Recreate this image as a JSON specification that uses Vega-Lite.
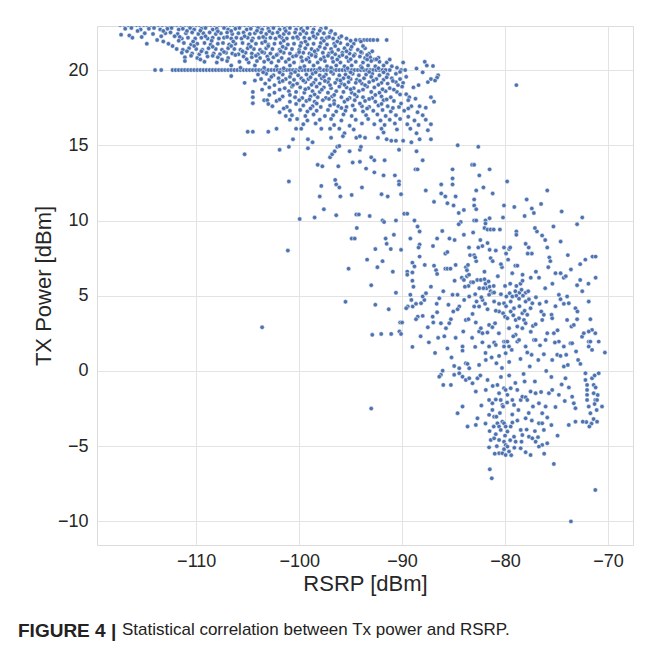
{
  "$schema": "https://vega.github.io/schema/vega-lite/v6.json",
  "width": 536,
  "height": 519,
  "autosize": {"type": "none"},
  "padding": {"left": 97, "top": 26, "right": 22, "bottom": 113},
  "background": "white",
  "title": {
    "text": "FIGURE 4 |",
    "subtitle": "\u200b\u00a0\u00a0\u00a0\u00a0\u00a0\u00a0\u00a0\u00a0\u00a0\u00a0\u00a0\u00a0\u00a0\u00a0\u00a0\u00a0\u00a0\u00a0\u00a0\u00a0\u00a0\u00a0Statistical correlation between Tx power and RSRP.",
    "orient": "bottom",
    "anchor": "start",
    "frame": "group",
    "dx": -79,
    "offset": 28,
    "font": "Liberation Sans",
    "fontSize": 19,
    "fontWeight": "bold",
    "color": "#222222",
    "subtitleFont": "Liberation Sans",
    "subtitleFontSize": 17,
    "subtitleFontWeight": "normal",
    "subtitleColor": "#222222",
    "subtitlePadding": -19
  },
  "config": {
    "view": {"stroke": "#dcdcdc", "strokeWidth": 1},
    "axis": {
      "grid": true,
      "gridColor": "#e3e3e3",
      "gridWidth": 1,
      "domain": false,
      "ticks": false,
      "labelFont": "Liberation Sans",
      "labelFontSize": 18,
      "labelColor": "#262626",
      "titleFont": "Liberation Sans",
      "titleFontSize": 22,
      "titleFontWeight": "normal",
      "titleColor": "#262626"
    }
  },
  "data": {"values": [
{"rsrp":-117.4,"tx":23},{"rsrp":-117.0,"tx":23},{"rsrp":-116.6,"tx":23},{"rsrp":-116.2,"tx":23},{"rsrp":-115.8,"tx":23},{"rsrp":-115.5,"tx":23},{"rsrp":-115.1,"tx":23},{"rsrp":-114.8,"tx":23},{"rsrp":-114.4,"tx":23},{"rsrp":-114.0,"tx":23},{"rsrp":-113.7,"tx":23},{"rsrp":-113.3,"tx":23},{"rsrp":-112.9,"tx":23},{"rsrp":-112.6,"tx":23},{"rsrp":-112.2,"tx":23},{"rsrp":-111.9,"tx":23},{"rsrp":-111.5,"tx":23},{"rsrp":-111.1,"tx":23},{"rsrp":-110.8,"tx":23},{"rsrp":-110.4,"tx":23},{"rsrp":-110.0,"tx":23},{"rsrp":-109.7,"tx":23},{"rsrp":-109.3,"tx":23},{"rsrp":-108.9,"tx":23},{"rsrp":-108.6,"tx":23},{"rsrp":-108.2,"tx":23},{"rsrp":-107.8,"tx":23},{"rsrp":-107.5,"tx":23},{"rsrp":-107.1,"tx":23},{"rsrp":-106.7,"tx":23},{"rsrp":-106.4,"tx":23},{"rsrp":-106.0,"tx":23},{"rsrp":-105.6,"tx":23},{"rsrp":-105.3,"tx":23},{"rsrp":-104.9,"tx":23},{"rsrp":-104.5,"tx":23},{"rsrp":-104.2,"tx":23},{"rsrp":-103.8,"tx":23},{"rsrp":-103.4,"tx":23},{"rsrp":-103.1,"tx":23},{"rsrp":-102.7,"tx":23},{"rsrp":-102.3,"tx":23},{"rsrp":-102.0,"tx":23},{"rsrp":-101.6,"tx":23},{"rsrp":-101.2,"tx":23},{"rsrp":-100.8,"tx":23},{"rsrp":-100.5,"tx":23},{"rsrp":-100.1,"tx":23},{"rsrp":-99.7,"tx":23},{"rsrp":-99.3,"tx":23},{"rsrp":-98.9,"tx":23},{"rsrp":-98.5,"tx":23},
{"rsrp":-116.9,"tx":22.75},{"rsrp":-116.3,"tx":22.8},{"rsrp":-115.4,"tx":22.7},{"rsrp":-114.6,"tx":22.75},{"rsrp":-114.1,"tx":22.8},{"rsrp":-113.5,"tx":22.7},{"rsrp":-112.8,"tx":22.75},{"rsrp":-112.4,"tx":22.8},{"rsrp":-111.7,"tx":22.7},{"rsrp":-111.3,"tx":22.75},{"rsrp":-110.6,"tx":22.8},{"rsrp":-110.2,"tx":22.7},{"rsrp":-109.5,"tx":22.75},{"rsrp":-109.1,"tx":22.8},{"rsrp":-108.4,"tx":22.7},{"rsrp":-108.0,"tx":22.75},{"rsrp":-107.3,"tx":22.8},{"rsrp":-106.9,"tx":22.7},{"rsrp":-106.2,"tx":22.75},{"rsrp":-105.8,"tx":22.8},{"rsrp":-105.1,"tx":22.7},{"rsrp":-104.7,"tx":22.75},{"rsrp":-104.0,"tx":22.8},{"rsrp":-103.6,"tx":22.7},{"rsrp":-103.0,"tx":22.75},{"rsrp":-102.5,"tx":22.8},{"rsrp":-101.9,"tx":22.7},{"rsrp":-101.4,"tx":22.75},{"rsrp":-100.9,"tx":22.8},{"rsrp":-100.3,"tx":22.7},{"rsrp":-99.8,"tx":22.75},{"rsrp":-99.2,"tx":22.8},{"rsrp":-98.6,"tx":22.7},{"rsrp":-97.9,"tx":22.75},{"rsrp":-97.4,"tx":22.8},
{"rsrp":-117.3,"tx":22.35},{"rsrp":-116.5,"tx":22.3},{"rsrp":-116.2,"tx":22.15},{"rsrp":-115.0,"tx":22.45},{"rsrp":-114.2,"tx":22.4},{"rsrp":-113.0,"tx":22.45},{"rsrp":-112.5,"tx":22.5},{"rsrp":-111.8,"tx":22.4},{"rsrp":-111.0,"tx":22.45},{"rsrp":-110.4,"tx":22.5},{"rsrp":-109.8,"tx":22.4},{"rsrp":-109.3,"tx":22.45},{"rsrp":-108.7,"tx":22.5},{"rsrp":-108.1,"tx":22.4},{"rsrp":-107.6,"tx":22.45},{"rsrp":-107.0,"tx":22.5},{"rsrp":-106.5,"tx":22.4},{"rsrp":-105.9,"tx":22.45},{"rsrp":-105.4,"tx":22.5},{"rsrp":-104.8,"tx":22.4},{"rsrp":-104.3,"tx":22.45},{"rsrp":-103.7,"tx":22.5},{"rsrp":-103.2,"tx":22.4},{"rsrp":-102.6,"tx":22.45},{"rsrp":-102.1,"tx":22.5},{"rsrp":-101.5,"tx":22.4},{"rsrp":-101.0,"tx":22.45},{"rsrp":-100.4,"tx":22.5},{"rsrp":-99.9,"tx":22.4},{"rsrp":-99.3,"tx":22.45},{"rsrp":-98.7,"tx":22.5},{"rsrp":-98.2,"tx":22.4},{"rsrp":-97.6,"tx":22.45},{"rsrp":-97.0,"tx":22.5},{"rsrp":-96.5,"tx":22.4},
{"rsrp":-113.8,"tx":22.0},{"rsrp":-112.1,"tx":22.25},{"rsrp":-111.4,"tx":22.1},{"rsrp":-110.8,"tx":22.15},{"rsrp":-110.1,"tx":22.1},{"rsrp":-109.5,"tx":22.15},{"rsrp":-108.9,"tx":22.1},{"rsrp":-108.4,"tx":22.15},{"rsrp":-107.8,"tx":22.1},{"rsrp":-107.3,"tx":22.15},{"rsrp":-106.6,"tx":22.1},{"rsrp":-106.1,"tx":22.15},{"rsrp":-105.6,"tx":22.1},{"rsrp":-105.0,"tx":22.15},{"rsrp":-104.5,"tx":22.1},{"rsrp":-103.9,"tx":22.15},{"rsrp":-103.3,"tx":22.1},{"rsrp":-102.8,"tx":22.15},{"rsrp":-102.3,"tx":22.1},{"rsrp":-101.7,"tx":22.15},{"rsrp":-101.2,"tx":22.1},{"rsrp":-100.6,"tx":22.15},{"rsrp":-100.1,"tx":22.1},{"rsrp":-99.5,"tx":22.15},{"rsrp":-99.0,"tx":22.1},{"rsrp":-98.4,"tx":22.15},{"rsrp":-97.8,"tx":22.1},{"rsrp":-97.3,"tx":22.15},{"rsrp":-96.7,"tx":22.1},{"rsrp":-96.1,"tx":22.15},{"rsrp":-95.4,"tx":22.1},
{"rsrp":-94.5,"tx":22.0},{"rsrp":-94.1,"tx":22.0},{"rsrp":-93.7,"tx":22.0},{"rsrp":-93.4,"tx":22.0},{"rsrp":-93.1,"tx":22.0},{"rsrp":-92.8,"tx":22.0},{"rsrp":-92.4,"tx":22.0},{"rsrp":-91.5,"tx":22.0},
{"rsrp":-114.8,"tx":21.75},{"rsrp":-112.7,"tx":21.75},{"rsrp":-111.2,"tx":21.8},{"rsrp":-110.5,"tx":21.7},{"rsrp":-109.9,"tx":21.75},{"rsrp":-109.2,"tx":21.8},{"rsrp":-108.6,"tx":21.7},{"rsrp":-107.9,"tx":21.75},{"rsrp":-107.4,"tx":21.8},{"rsrp":-106.8,"tx":21.7},{"rsrp":-106.2,"tx":21.75},{"rsrp":-105.5,"tx":21.8},{"rsrp":-104.9,"tx":21.7},{"rsrp":-104.2,"tx":21.75},{"rsrp":-103.6,"tx":21.8},{"rsrp":-103.0,"tx":21.7},{"rsrp":-102.4,"tx":21.75},{"rsrp":-101.8,"tx":21.8},{"rsrp":-101.1,"tx":21.7},{"rsrp":-100.5,"tx":21.75},{"rsrp":-99.8,"tx":21.8},{"rsrp":-99.2,"tx":21.7},{"rsrp":-98.6,"tx":21.75},{"rsrp":-97.9,"tx":21.8},{"rsrp":-97.3,"tx":21.7},{"rsrp":-96.6,"tx":21.75},{"rsrp":-96.0,"tx":21.8},{"rsrp":-95.3,"tx":21.7},{"rsrp":-94.7,"tx":21.75},
{"rsrp":-111.9,"tx":21.4},{"rsrp":-111.3,"tx":21.35},{"rsrp":-110.7,"tx":21.45},{"rsrp":-110.0,"tx":21.4},{"rsrp":-109.4,"tx":21.35},{"rsrp":-108.8,"tx":21.45},{"rsrp":-108.1,"tx":21.4},{"rsrp":-107.5,"tx":21.35},{"rsrp":-106.9,"tx":21.45},{"rsrp":-106.3,"tx":21.4},{"rsrp":-105.7,"tx":21.35},{"rsrp":-105.0,"tx":21.45},{"rsrp":-104.4,"tx":21.4},{"rsrp":-103.8,"tx":21.35},{"rsrp":-103.2,"tx":21.45},{"rsrp":-102.6,"tx":21.4},{"rsrp":-101.9,"tx":21.35},{"rsrp":-101.3,"tx":21.45},{"rsrp":-100.7,"tx":21.4},{"rsrp":-100.0,"tx":21.35},{"rsrp":-99.4,"tx":21.45},{"rsrp":-98.8,"tx":21.4},{"rsrp":-98.2,"tx":21.35},{"rsrp":-97.5,"tx":21.45},{"rsrp":-96.9,"tx":21.4},{"rsrp":-96.2,"tx":21.35},{"rsrp":-95.6,"tx":21.45},{"rsrp":-95.0,"tx":21.4},{"rsrp":-94.3,"tx":21.35},{"rsrp":-93.6,"tx":21.45},
{"rsrp":-111.4,"tx":21.15},{"rsrp":-110.4,"tx":21.1},{"rsrp":-109.7,"tx":21.05},{"rsrp":-109.0,"tx":21.15},{"rsrp":-108.3,"tx":21.1},{"rsrp":-107.7,"tx":21.05},{"rsrp":-107.1,"tx":21.15},{"rsrp":-106.5,"tx":21.1},{"rsrp":-105.9,"tx":21.05},{"rsrp":-105.2,"tx":21.15},{"rsrp":-104.6,"tx":21.1},{"rsrp":-104.0,"tx":21.05},{"rsrp":-103.4,"tx":21.15},{"rsrp":-102.8,"tx":21.1},{"rsrp":-102.1,"tx":21.05},{"rsrp":-101.5,"tx":21.15},{"rsrp":-100.9,"tx":21.1},{"rsrp":-100.2,"tx":21.05},{"rsrp":-99.6,"tx":21.15},{"rsrp":-99.0,"tx":21.1},{"rsrp":-98.4,"tx":21.05},{"rsrp":-97.7,"tx":21.15},{"rsrp":-97.1,"tx":21.1},{"rsrp":-96.5,"tx":21.05},{"rsrp":-95.8,"tx":21.15},{"rsrp":-95.1,"tx":21.1},{"rsrp":-94.6,"tx":21.05},{"rsrp":-93.9,"tx":21.15},{"rsrp":-93.2,"tx":21.1},
{"rsrp":-111.1,"tx":20.85},{"rsrp":-109.9,"tx":20.8},{"rsrp":-108.9,"tx":20.9},{"rsrp":-107.9,"tx":20.85},{"rsrp":-106.9,"tx":20.8},{"rsrp":-105.4,"tx":20.9},{"rsrp":-104.6,"tx":20.85},{"rsrp":-103.8,"tx":20.8},{"rsrp":-103.1,"tx":20.9},{"rsrp":-102.5,"tx":20.85},{"rsrp":-101.7,"tx":20.8},{"rsrp":-100.6,"tx":20.9},{"rsrp":-99.8,"tx":20.85},{"rsrp":-99.1,"tx":20.8},{"rsrp":-98.4,"tx":20.9},{"rsrp":-97.6,"tx":20.85},{"rsrp":-96.8,"tx":20.8},{"rsrp":-96.1,"tx":20.9},{"rsrp":-95.4,"tx":20.85},{"rsrp":-94.1,"tx":20.9},{"rsrp":-93.6,"tx":20.8},{"rsrp":-93.1,"tx":20.85},{"rsrp":-92.7,"tx":20.7},{"rsrp":-92.3,"tx":20.82},
{"rsrp":-111.1,"tx":20.6},{"rsrp":-109.2,"tx":20.55},{"rsrp":-108.0,"tx":20.5},{"rsrp":-107.0,"tx":20.6},{"rsrp":-105.8,"tx":20.55},{"rsrp":-104.9,"tx":20.5},{"rsrp":-104.1,"tx":20.6},{"rsrp":-103.4,"tx":20.55},{"rsrp":-102.7,"tx":20.5},{"rsrp":-102.0,"tx":20.6},{"rsrp":-101.3,"tx":20.55},{"rsrp":-100.5,"tx":20.5},{"rsrp":-99.7,"tx":20.6},{"rsrp":-99.0,"tx":20.55},{"rsrp":-98.2,"tx":20.5},{"rsrp":-97.5,"tx":20.6},{"rsrp":-96.7,"tx":20.55},{"rsrp":-96.0,"tx":20.5},{"rsrp":-95.2,"tx":20.6},{"rsrp":-94.5,"tx":20.55},{"rsrp":-93.8,"tx":20.5},{"rsrp":-93.0,"tx":20.6},{"rsrp":-92.2,"tx":20.55},{"rsrp":-91.5,"tx":20.5},{"rsrp":-89.9,"tx":20.5},{"rsrp":-87.8,"tx":20.55},
{"rsrp":-106.6,"tx":20.3},{"rsrp":-104.3,"tx":20.3},{"rsrp":-102.2,"tx":20.25},{"rsrp":-100.9,"tx":20.3},{"rsrp":-99.5,"tx":20.25},{"rsrp":-98.6,"tx":20.3},{"rsrp":-97.3,"tx":20.25},{"rsrp":-96.4,"tx":20.3},{"rsrp":-95.6,"tx":20.25},{"rsrp":-94.9,"tx":20.3},{"rsrp":-94.0,"tx":20.25},{"rsrp":-93.3,"tx":20.3},{"rsrp":-92.6,"tx":20.25},{"rsrp":-91.8,"tx":20.3},{"rsrp":-91.0,"tx":20.25},{"rsrp":-87.6,"tx":20.3},{"rsrp":-87.0,"tx":20.27},
{"rsrp":-114.0,"tx":20},{"rsrp":-113.4,"tx":20},{"rsrp":-112.3,"tx":20},{"rsrp":-112.0,"tx":20},{"rsrp":-111.7,"tx":20},{"rsrp":-111.4,"tx":20},{"rsrp":-111.1,"tx":20},{"rsrp":-110.8,"tx":20},{"rsrp":-110.5,"tx":20},{"rsrp":-110.2,"tx":20},{"rsrp":-109.9,"tx":20},{"rsrp":-109.6,"tx":20},{"rsrp":-109.3,"tx":20},{"rsrp":-109.0,"tx":20},{"rsrp":-108.7,"tx":20},{"rsrp":-108.4,"tx":20},{"rsrp":-108.1,"tx":20},{"rsrp":-107.8,"tx":20},{"rsrp":-107.5,"tx":20},{"rsrp":-107.2,"tx":20},{"rsrp":-106.9,"tx":20},{"rsrp":-106.6,"tx":20},{"rsrp":-106.3,"tx":20},{"rsrp":-106.0,"tx":20},{"rsrp":-105.7,"tx":20},{"rsrp":-105.4,"tx":20},{"rsrp":-105.1,"tx":20},{"rsrp":-104.8,"tx":20},{"rsrp":-104.5,"tx":20},{"rsrp":-104.2,"tx":20},{"rsrp":-103.9,"tx":20},{"rsrp":-103.6,"tx":20},{"rsrp":-103.3,"tx":20},{"rsrp":-103.0,"tx":20},{"rsrp":-102.7,"tx":20},{"rsrp":-102.4,"tx":20},{"rsrp":-102.1,"tx":20},{"rsrp":-101.8,"tx":20},{"rsrp":-101.5,"tx":20},{"rsrp":-101.2,"tx":20},{"rsrp":-100.9,"tx":20},{"rsrp":-100.6,"tx":20},{"rsrp":-100.3,"tx":20},{"rsrp":-100.0,"tx":20},{"rsrp":-99.7,"tx":20},{"rsrp":-99.4,"tx":20},{"rsrp":-99.1,"tx":20},{"rsrp":-98.8,"tx":20},{"rsrp":-98.5,"tx":20},{"rsrp":-98.2,"tx":20},{"rsrp":-97.9,"tx":20},{"rsrp":-97.6,"tx":20},{"rsrp":-97.3,"tx":20},{"rsrp":-97.0,"tx":20},{"rsrp":-96.7,"tx":20},{"rsrp":-96.4,"tx":20},{"rsrp":-96.1,"tx":20},{"rsrp":-95.8,"tx":20},{"rsrp":-95.5,"tx":20},{"rsrp":-95.2,"tx":20},{"rsrp":-94.9,"tx":20},{"rsrp":-94.6,"tx":20},{"rsrp":-94.3,"tx":20},{"rsrp":-94.0,"tx":20},{"rsrp":-93.7,"tx":20},{"rsrp":-93.4,"tx":20},{"rsrp":-93.1,"tx":20},{"rsrp":-92.8,"tx":20},{"rsrp":-92.5,"tx":20},{"rsrp":-92.2,"tx":20},{"rsrp":-91.9,"tx":20},{"rsrp":-91.6,"tx":20},{"rsrp":-91.2,"tx":20},{"rsrp":-90.1,"tx":20},{"rsrp":-89.7,"tx":20},
{"rsrp":-106.6,"tx":19.6},{"rsrp":-104.0,"tx":19.7},{"rsrp":-103.2,"tx":19.75},{"rsrp":-102.5,"tx":19.65},{"rsrp":-101.6,"tx":19.7},{"rsrp":-100.8,"tx":19.75},{"rsrp":-100.1,"tx":19.65},{"rsrp":-99.3,"tx":19.7},{"rsrp":-98.7,"tx":19.75},{"rsrp":-98.0,"tx":19.65},{"rsrp":-97.4,"tx":19.7},{"rsrp":-96.7,"tx":19.75},{"rsrp":-96.1,"tx":19.65},{"rsrp":-95.5,"tx":19.7},{"rsrp":-94.8,"tx":19.75},{"rsrp":-94.2,"tx":19.65},{"rsrp":-93.5,"tx":19.7},{"rsrp":-92.9,"tx":19.75},{"rsrp":-92.2,"tx":19.65},{"rsrp":-91.4,"tx":19.7},{"rsrp":-90.6,"tx":19.75},{"rsrp":-86.5,"tx":19.65},
{"rsrp":-103.7,"tx":19.4},{"rsrp":-102.9,"tx":19.35},{"rsrp":-102.0,"tx":19.45},{"rsrp":-101.3,"tx":19.4},{"rsrp":-100.5,"tx":19.35},{"rsrp":-99.8,"tx":19.45},{"rsrp":-99.1,"tx":19.4},{"rsrp":-98.4,"tx":19.35},{"rsrp":-97.8,"tx":19.45},{"rsrp":-97.1,"tx":19.4},{"rsrp":-96.3,"tx":19.35},{"rsrp":-95.7,"tx":19.45},{"rsrp":-95.0,"tx":19.4},{"rsrp":-94.4,"tx":19.35},{"rsrp":-93.7,"tx":19.45},{"rsrp":-92.5,"tx":19.4},{"rsrp":-91.8,"tx":19.35},{"rsrp":-91.0,"tx":19.45},{"rsrp":-90.2,"tx":19.4},{"rsrp":-87.2,"tx":19.4},{"rsrp":-86.6,"tx":19.5},
{"rsrp":-105.3,"tx":19.15},{"rsrp":-103.3,"tx":19.1},{"rsrp":-101.9,"tx":19.2},{"rsrp":-100.9,"tx":19.15},{"rsrp":-100.2,"tx":19.1},{"rsrp":-99.4,"tx":19.2},{"rsrp":-98.6,"tx":19.15},{"rsrp":-98.0,"tx":19.1},{"rsrp":-97.2,"tx":19.2},{"rsrp":-96.5,"tx":19.15},{"rsrp":-95.9,"tx":19.1},{"rsrp":-95.2,"tx":19.2},{"rsrp":-94.5,"tx":19.15},{"rsrp":-93.9,"tx":19.1},{"rsrp":-93.2,"tx":19.2},{"rsrp":-92.0,"tx":19.15},{"rsrp":-91.4,"tx":19.1},{"rsrp":-90.6,"tx":19.2},{"rsrp":-89.9,"tx":19.15},{"rsrp":-87.5,"tx":19.2},{"rsrp":-86.8,"tx":19.3},
{"rsrp":-102.9,"tx":18.85},{"rsrp":-101.4,"tx":18.8},{"rsrp":-100.7,"tx":18.9},{"rsrp":-99.9,"tx":18.85},{"rsrp":-99.1,"tx":18.8},{"rsrp":-98.3,"tx":18.9},{"rsrp":-97.6,"tx":18.85},{"rsrp":-96.9,"tx":18.8},{"rsrp":-96.1,"tx":18.9},{"rsrp":-95.4,"tx":18.85},{"rsrp":-94.7,"tx":18.8},{"rsrp":-93.4,"tx":18.9},{"rsrp":-92.7,"tx":18.85},{"rsrp":-91.2,"tx":18.8},{"rsrp":-90.0,"tx":18.9},{"rsrp":-88.9,"tx":18.85},
{"rsrp":-104.5,"tx":18.55},{"rsrp":-102.4,"tx":18.5},{"rsrp":-101.0,"tx":18.6},{"rsrp":-100.3,"tx":18.55},{"rsrp":-99.5,"tx":18.5},{"rsrp":-98.7,"tx":18.6},{"rsrp":-98.0,"tx":18.55},{"rsrp":-97.2,"tx":18.5},{"rsrp":-96.4,"tx":18.6},{"rsrp":-95.7,"tx":18.55},{"rsrp":-94.9,"tx":18.5},{"rsrp":-94.2,"tx":18.6},{"rsrp":-93.0,"tx":18.55},{"rsrp":-92.2,"tx":18.5},{"rsrp":-91.6,"tx":18.6},{"rsrp":-90.5,"tx":18.55},{"rsrp":-89.6,"tx":18.4},{"rsrp":-89.3,"tx":18.2},
{"rsrp":-104.5,"tx":18.2},{"rsrp":-103.4,"tx":18.0},{"rsrp":-101.6,"tx":18.25},{"rsrp":-100.4,"tx":18.2},{"rsrp":-99.7,"tx":18.15},{"rsrp":-98.9,"tx":18.25},{"rsrp":-98.2,"tx":18.2},{"rsrp":-97.4,"tx":18.15},{"rsrp":-96.8,"tx":18.25},{"rsrp":-95.9,"tx":18.2},{"rsrp":-95.1,"tx":18.15},{"rsrp":-94.4,"tx":18.25},{"rsrp":-93.8,"tx":18.2},{"rsrp":-92.9,"tx":18.15},{"rsrp":-92.0,"tx":18.25},{"rsrp":-91.1,"tx":18.2},{"rsrp":-89.4,"tx":18.0},{"rsrp":-88.7,"tx":18.1},{"rsrp":-87.2,"tx":18.2},
{"rsrp":-104.5,"tx":17.8},{"rsrp":-103.1,"tx":18.0},{"rsrp":-102.2,"tx":17.95},{"rsrp":-100.9,"tx":17.9},{"rsrp":-100.0,"tx":18.0},{"rsrp":-99.3,"tx":17.95},{"rsrp":-98.5,"tx":17.9},{"rsrp":-97.7,"tx":18.0},{"rsrp":-96.6,"tx":17.95},{"rsrp":-95.6,"tx":17.9},{"rsrp":-94.6,"tx":18.0},{"rsrp":-93.6,"tx":17.95},{"rsrp":-92.6,"tx":17.9},{"rsrp":-91.8,"tx":18.0},{"rsrp":-90.8,"tx":17.95},{"rsrp":-89.1,"tx":17.6},{"rsrp":-86.9,"tx":17.9},
{"rsrp":-102.6,"tx":17.6},{"rsrp":-101.2,"tx":17.55},{"rsrp":-99.6,"tx":17.65},{"rsrp":-98.7,"tx":17.6},{"rsrp":-97.9,"tx":17.55},{"rsrp":-97.0,"tx":17.65},{"rsrp":-96.2,"tx":17.6},{"rsrp":-95.4,"tx":17.55},{"rsrp":-94.8,"tx":17.65},{"rsrp":-93.9,"tx":17.6},{"rsrp":-93.2,"tx":17.55},{"rsrp":-92.3,"tx":17.65},{"rsrp":-91.4,"tx":17.6},{"rsrp":-90.3,"tx":17.55},{"rsrp":-88.3,"tx":17.6},{"rsrp":-87.7,"tx":17.5},
{"rsrp":-101.9,"tx":17.2},{"rsrp":-100.9,"tx":17.3},{"rsrp":-99.9,"tx":17.35},{"rsrp":-99.2,"tx":17.25},{"rsrp":-98.3,"tx":17.3},{"rsrp":-97.2,"tx":17.35},{"rsrp":-96.4,"tx":17.25},{"rsrp":-95.5,"tx":17.3},{"rsrp":-94.6,"tx":17.35},{"rsrp":-93.8,"tx":17.25},{"rsrp":-92.8,"tx":17.3},{"rsrp":-91.9,"tx":17.35},{"rsrp":-91.1,"tx":17.25},{"rsrp":-89.8,"tx":17.3},{"rsrp":-88.5,"tx":17.2},
{"rsrp":-101.3,"tx":16.95},{"rsrp":-100.7,"tx":17.0},{"rsrp":-99.4,"tx":16.95},{"rsrp":-98.6,"tx":17.05},{"rsrp":-97.5,"tx":16.95},{"rsrp":-96.7,"tx":17.0},{"rsrp":-95.7,"tx":17.05},{"rsrp":-94.9,"tx":16.95},{"rsrp":-93.5,"tx":17.0},{"rsrp":-92.4,"tx":17.05},{"rsrp":-91.6,"tx":16.95},{"rsrp":-90.6,"tx":17.0},{"rsrp":-89.4,"tx":16.9},{"rsrp":-88.0,"tx":17.0},
{"rsrp":-100.9,"tx":16.7},{"rsrp":-100.2,"tx":16.75},{"rsrp":-99.2,"tx":16.65},{"rsrp":-98.0,"tx":16.7},{"rsrp":-96.9,"tx":16.75},{"rsrp":-95.9,"tx":16.65},{"rsrp":-94.5,"tx":16.7},{"rsrp":-93.3,"tx":16.75},{"rsrp":-92.1,"tx":16.65},{"rsrp":-91.2,"tx":16.7},{"rsrp":-90.2,"tx":16.75},{"rsrp":-88.8,"tx":16.65},{"rsrp":-87.7,"tx":16.7},
{"rsrp":-99.6,"tx":16.4},{"rsrp":-98.4,"tx":16.45},{"rsrp":-96.6,"tx":16.35},{"rsrp":-95.1,"tx":16.3},{"rsrp":-93.9,"tx":16.45},{"rsrp":-92.7,"tx":16.4},{"rsrp":-91.7,"tx":16.35},{"rsrp":-90.7,"tx":16.45},{"rsrp":-89.5,"tx":16.4},{"rsrp":-88.4,"tx":16.35},{"rsrp":-87.2,"tx":16.4},
{"rsrp":-102.2,"tx":16.1},{"rsrp":-100.3,"tx":16.1},{"rsrp":-99.8,"tx":16.1},{"rsrp":-97.85,"tx":16.1},{"rsrp":-97.0,"tx":16.1},{"rsrp":-96.1,"tx":16.1},{"rsrp":-94.7,"tx":16.05},{"rsrp":-92.0,"tx":16.1},{"rsrp":-90.5,"tx":16.05},{"rsrp":-89.2,"tx":16.1},{"rsrp":-87.5,"tx":16.0},
{"rsrp":-105.0,"tx":15.9},{"rsrp":-104.5,"tx":15.9},{"rsrp":-103.0,"tx":15.9},{"rsrp":-95.6,"tx":15.8},{"rsrp":-91.8,"tx":15.85},{"rsrp":-88.6,"tx":15.8},
{"rsrp":-100.6,"tx":15.4},{"rsrp":-99.15,"tx":15.4},{"rsrp":-96.9,"tx":15.5},{"rsrp":-94.45,"tx":15.5},{"rsrp":-94.1,"tx":15.6},{"rsrp":-93.6,"tx":15.5},{"rsrp":-92.35,"tx":15.5},{"rsrp":-91.5,"tx":15.4},{"rsrp":-89.1,"tx":15.2},{"rsrp":-88.3,"tx":15.4},{"rsrp":-87.2,"tx":15.4},
{"rsrp":-98.7,"tx":15.2},{"rsrp":-95.75,"tx":15.6},{"rsrp":-91.05,"tx":15.3},{"rsrp":-90.6,"tx":15.3},{"rsrp":-89.9,"tx":15.3},
{"rsrp":-115.7,"tx":22.6},{"rsrp":-113.2,"tx":22.6},{"rsrp":-110.9,"tx":22.6},{"rsrp":-109.6,"tx":22.62},{"rsrp":-107.9,"tx":22.58},{"rsrp":-106.6,"tx":22.6},{"rsrp":-104.1,"tx":22.62},{"rsrp":-102.9,"tx":22.58},{"rsrp":-101.3,"tx":22.6},{"rsrp":-99.6,"tx":22.6},{"rsrp":-98.0,"tx":22.62},{"rsrp":-96.9,"tx":22.6},
{"rsrp":-115.3,"tx":22.2},{"rsrp":-113.4,"tx":22.25},{"rsrp":-111.6,"tx":22.2},{"rsrp":-109.1,"tx":22.25},{"rsrp":-107.0,"tx":22.2},{"rsrp":-105.3,"tx":22.25},{"rsrp":-103.5,"tx":22.2},{"rsrp":-101.9,"tx":22.25},{"rsrp":-100.2,"tx":22.2},{"rsrp":-98.6,"tx":22.25},{"rsrp":-97.1,"tx":22.2},{"rsrp":-95.9,"tx":22.25},
{"rsrp":-113.2,"tx":21.9},{"rsrp":-111.7,"tx":21.95},{"rsrp":-110.3,"tx":21.9},{"rsrp":-108.5,"tx":21.95},{"rsrp":-106.4,"tx":21.9},{"rsrp":-104.6,"tx":21.95},{"rsrp":-103.3,"tx":21.9},{"rsrp":-101.5,"tx":21.95},{"rsrp":-99.4,"tx":21.9},{"rsrp":-97.6,"tx":21.95},{"rsrp":-96.3,"tx":21.9},{"rsrp":-95.0,"tx":21.95},{"rsrp":-94.0,"tx":21.9},
{"rsrp":-112.3,"tx":21.6},{"rsrp":-110.2,"tx":21.6},{"rsrp":-108.4,"tx":21.55},{"rsrp":-106.6,"tx":21.6},{"rsrp":-104.7,"tx":21.55},{"rsrp":-103.0,"tx":21.6},{"rsrp":-101.6,"tx":21.55},{"rsrp":-99.9,"tx":21.6},{"rsrp":-98.0,"tx":21.55},{"rsrp":-96.5,"tx":21.6},{"rsrp":-94.9,"tx":21.55},{"rsrp":-93.8,"tx":21.6},
{"rsrp":-110.9,"tx":21.25},{"rsrp":-109.5,"tx":21.25},{"rsrp":-107.3,"tx":21.2},{"rsrp":-105.5,"tx":21.25},{"rsrp":-103.6,"tx":21.2},{"rsrp":-101.8,"tx":21.25},{"rsrp":-100.0,"tx":21.2},{"rsrp":-98.5,"tx":21.25},{"rsrp":-96.8,"tx":21.2},{"rsrp":-95.4,"tx":21.25},{"rsrp":-94.0,"tx":21.2},{"rsrp":-92.9,"tx":21.25},
{"rsrp":-110.5,"tx":20.95},{"rsrp":-108.4,"tx":20.95},{"rsrp":-106.2,"tx":21.0},{"rsrp":-104.2,"tx":20.95},{"rsrp":-102.2,"tx":21.0},{"rsrp":-100.3,"tx":20.95},{"rsrp":-98.8,"tx":21.0},{"rsrp":-97.2,"tx":20.95},{"rsrp":-95.8,"tx":21.0},{"rsrp":-94.7,"tx":20.95},{"rsrp":-93.4,"tx":21.0},
{"rsrp":-109.6,"tx":20.7},{"rsrp":-107.5,"tx":20.7},{"rsrp":-105.1,"tx":20.72},{"rsrp":-103.0,"tx":20.7},{"rsrp":-101.0,"tx":20.72},{"rsrp":-99.3,"tx":20.7},{"rsrp":-97.9,"tx":20.72},{"rsrp":-96.3,"tx":20.7},{"rsrp":-95.0,"tx":20.72},{"rsrp":-93.4,"tx":20.7},{"rsrp":-92.5,"tx":20.72},{"rsrp":-91.2,"tx":20.7},
{"rsrp":-105.7,"tx":20.15},{"rsrp":-103.4,"tx":20.15},{"rsrp":-101.5,"tx":20.12},{"rsrp":-99.9,"tx":20.15},{"rsrp":-98.0,"tx":20.12},{"rsrp":-96.9,"tx":20.15},{"rsrp":-95.3,"tx":20.12},{"rsrp":-93.9,"tx":20.15},{"rsrp":-92.3,"tx":20.12},{"rsrp":-90.5,"tx":20.15},{"rsrp":-88.6,"tx":20.1},
{"rsrp":-103.5,"tx":19.85},{"rsrp":-101.9,"tx":19.85},{"rsrp":-100.4,"tx":19.88},{"rsrp":-98.4,"tx":19.85},{"rsrp":-96.9,"tx":19.88},{"rsrp":-95.0,"tx":19.85},{"rsrp":-93.2,"tx":19.88},{"rsrp":-91.8,"tx":19.85},{"rsrp":-90.2,"tx":19.88},{"rsrp":-88.0,"tx":19.85},
{"rsrp":-102.7,"tx":19.55},{"rsrp":-100.9,"tx":19.55},{"rsrp":-98.9,"tx":19.52},{"rsrp":-97.6,"tx":19.55},{"rsrp":-95.2,"tx":19.52},{"rsrp":-93.0,"tx":19.55},{"rsrp":-91.5,"tx":19.52},{"rsrp":-89.6,"tx":19.55},
{"rsrp":-104.3,"tx":19.3},{"rsrp":-101.6,"tx":19.28},{"rsrp":-99.6,"tx":19.3},{"rsrp":-97.5,"tx":19.28},{"rsrp":-96.0,"tx":19.3},{"rsrp":-94.1,"tx":19.28},{"rsrp":-92.8,"tx":19.3},{"rsrp":-90.9,"tx":19.28},
{"rsrp":-102.4,"tx":19.0},{"rsrp":-100.6,"tx":19.0},{"rsrp":-98.8,"tx":19.02},{"rsrp":-97.0,"tx":19.0},{"rsrp":-95.6,"tx":19.02},{"rsrp":-93.6,"tx":19.0},{"rsrp":-92.3,"tx":19.02},{"rsrp":-90.4,"tx":19.0},{"rsrp":-88.4,"tx":19.0},
{"rsrp":-103.6,"tx":18.7},{"rsrp":-101.9,"tx":18.7},{"rsrp":-99.4,"tx":18.72},{"rsrp":-97.8,"tx":18.7},{"rsrp":-95.0,"tx":18.72},{"rsrp":-93.8,"tx":18.7},{"rsrp":-91.9,"tx":18.72},{"rsrp":-90.8,"tx":18.7},
{"rsrp":-102.9,"tx":18.35},{"rsrp":-100.9,"tx":18.35},{"rsrp":-98.5,"tx":18.38},{"rsrp":-96.6,"tx":18.35},{"rsrp":-94.6,"tx":18.38},{"rsrp":-92.6,"tx":18.35},{"rsrp":-90.2,"tx":18.38},
{"rsrp":-101.9,"tx":18.05},{"rsrp":-99.0,"tx":18.05},{"rsrp":-97.1,"tx":18.08},{"rsrp":-95.3,"tx":18.05},{"rsrp":-93.2,"tx":18.08},{"rsrp":-91.5,"tx":18.05},
{"rsrp":-103.0,"tx":17.75},{"rsrp":-100.3,"tx":17.75},{"rsrp":-98.3,"tx":17.78},{"rsrp":-96.6,"tx":17.75},{"rsrp":-94.1,"tx":17.78},{"rsrp":-92.0,"tx":17.75},{"rsrp":-90.1,"tx":17.78},
{"rsrp":-101.5,"tx":17.45},{"rsrp":-98.9,"tx":17.45},{"rsrp":-95.9,"tx":17.48},{"rsrp":-93.4,"tx":17.45},{"rsrp":-90.9,"tx":17.48},{"rsrp":-89.4,"tx":17.45},
{"rsrp":-101.9,"tx":14.7},{"rsrp":-101.0,"tx":14.9},{"rsrp":-99.15,"tx":14.8},{"rsrp":-97.0,"tx":14.2},{"rsrp":-96.8,"tx":14.4},{"rsrp":-96.55,"tx":14.6},{"rsrp":-96.3,"tx":14.9},{"rsrp":-96.1,"tx":14.95},{"rsrp":-95.1,"tx":14.6},{"rsrp":-94.1,"tx":14.7},{"rsrp":-94.0,"tx":14.9},{"rsrp":-93.0,"tx":14.2},{"rsrp":-92.7,"tx":14.0},{"rsrp":-90.3,"tx":14.7},{"rsrp":-88.6,"tx":14.6},{"rsrp":-98.2,"tx":13.7},{"rsrp":-97.75,"tx":13.6},{"rsrp":-96.2,"tx":13.6},{"rsrp":-94.8,"tx":13.85},{"rsrp":-94.1,"tx":13.9},{"rsrp":-93.5,"tx":13.45},{"rsrp":-92.7,"tx":13.2},{"rsrp":-101.0,"tx":12.6},{"rsrp":-97.85,"tx":12.3},{"rsrp":-96.5,"tx":12.7},{"rsrp":-96.4,"tx":12.4},{"rsrp":-96.1,"tx":12.2},{"rsrp":-93.9,"tx":12.2},{"rsrp":-98.0,"tx":11.6},{"rsrp":-96.0,"tx":11.6},{"rsrp":-94.9,"tx":11.7},{"rsrp":-97.6,"tx":10.75},{"rsrp":-96.4,"tx":10.35},{"rsrp":-94.45,"tx":10.4},{"rsrp":-94.2,"tx":10.4},{"rsrp":-93.15,"tx":10.3},{"rsrp":-98.5,"tx":10.2},{"rsrp":-99.95,"tx":10.1},{"rsrp":-105.3,"tx":14.4},{"rsrp":-101.1,"tx":8.0},{"rsrp":-103.6,"tx":2.9},{"rsrp":-78.9,"tx":19.0},{"rsrp":-84.6,"tx":15.0},{"rsrp":-82.6,"tx":14.9},
{"rsrp":-94.9,"tx":8.8},{"rsrp":-94.6,"tx":8.8},{"rsrp":-94.4,"tx":9.5},{"rsrp":-95.2,"tx":6.8},{"rsrp":-95.5,"tx":4.6},{"rsrp":-93.4,"tx":7.4},{"rsrp":-92.6,"tx":8.1},{"rsrp":-92.4,"tx":6.9},{"rsrp":-93.0,"tx":5.7},{"rsrp":-92.6,"tx":4.4},{"rsrp":-92.9,"tx":2.4},{"rsrp":-93.0,"tx":-2.5},
{"rsrp":-91.7,"tx":14.0},{"rsrp":-88.0,"tx":14.0},{"rsrp":-85.1,"tx":13.4},{"rsrp":-83.2,"tx":13.7},{"rsrp":-83.0,"tx":13.7},{"rsrp":-81.5,"tx":13.4},{"rsrp":-91.8,"tx":13.0},{"rsrp":-90.7,"tx":13.0},{"rsrp":-90.3,"tx":12.6},{"rsrp":-90.3,"tx":12.4},{"rsrp":-85.1,"tx":12.8},{"rsrp":-85.1,"tx":12.4},{"rsrp":-82.5,"tx":13.0},{"rsrp":-79.8,"tx":12.6},{"rsrp":-88.7,"tx":13.4},{"rsrp":-88.5,"tx":13.4},
{"rsrp":-86.2,"tx":12.4},{"rsrp":-86.2,"tx":11.8},{"rsrp":-87.7,"tx":12.0},{"rsrp":-82.8,"tx":12.0},{"rsrp":-92.0,"tx":11.75},{"rsrp":-91.4,"tx":11.6},{"rsrp":-90.1,"tx":11.75},{"rsrp":-85.8,"tx":11.6},{"rsrp":-85.6,"tx":11.15},{"rsrp":-84.8,"tx":11.6},{"rsrp":-85.0,"tx":11.0},{"rsrp":-83.0,"tx":11.4},{"rsrp":-83.0,"tx":11.0},{"rsrp":-82.8,"tx":10.75},{"rsrp":-81.2,"tx":11.8},{"rsrp":-75.9,"tx":12.0},{"rsrp":-86.9,"tx":11.24},{"rsrp":-77.9,"tx":11.4},{"rsrp":-80.1,"tx":11.0},{"rsrp":-77.4,"tx":10.8},{"rsrp":-77.2,"tx":10.5},
{"rsrp":-89.8,"tx":10.45},{"rsrp":-89.5,"tx":10.45},{"rsrp":-88.8,"tx":10.0},{"rsrp":-88.5,"tx":9.6},{"rsrp":-88.3,"tx":9.27},{"rsrp":-91.9,"tx":10.0},{"rsrp":-91.75,"tx":9.9},{"rsrp":-90.6,"tx":10.0},
{"rsrp":-84.5,"tx":10.5},{"rsrp":-84.3,"tx":9.9},{"rsrp":-84.5,"tx":9.75},{"rsrp":-84.0,"tx":10.7},{"rsrp":-83.0,"tx":10.0},{"rsrp":-82.8,"tx":10.0},{"rsrp":-81.9,"tx":10.0},{"rsrp":-81.5,"tx":10.15},{"rsrp":-81.9,"tx":9.8},{"rsrp":-82.0,"tx":9.5},{"rsrp":-81.7,"tx":9.4},{"rsrp":-81.4,"tx":9.4},{"rsrp":-81.1,"tx":9.4},{"rsrp":-80.5,"tx":9.4},{"rsrp":-80.2,"tx":10.2},{"rsrp":-78.9,"tx":9.27},{"rsrp":-78.9,"tx":9.05},{"rsrp":-78.1,"tx":10.3},{"rsrp":-76.9,"tx":9.27},{"rsrp":-76.4,"tx":9.0},{"rsrp":-76.1,"tx":8.7},{"rsrp":-75.9,"tx":8.2},{"rsrp":-73.0,"tx":9.75},{"rsrp":-72.5,"tx":10.2},
{"rsrp":-91.6,"tx":8.8},{"rsrp":-90.8,"tx":9.05},{"rsrp":-91.5,"tx":8.45},{"rsrp":-91.1,"tx":8.1},{"rsrp":-90.1,"tx":8.05},{"rsrp":-91.9,"tx":7.3},{"rsrp":-89.2,"tx":8.8},{"rsrp":-88.3,"tx":8.4},{"rsrp":-88.4,"tx":8.2},{"rsrp":-86.6,"tx":8.8},{"rsrp":-85.8,"tx":7.8},{"rsrp":-85.6,"tx":7.9},{"rsrp":-85.4,"tx":8.8},{"rsrp":-84.9,"tx":8.7},{"rsrp":-84.0,"tx":9.05},{"rsrp":-83.5,"tx":8.2},{"rsrp":-83.4,"tx":7.7},{"rsrp":-83.0,"tx":7.7},{"rsrp":-82.8,"tx":7.3},{"rsrp":-82.9,"tx":7.55},{"rsrp":-82.6,"tx":8.2},{"rsrp":-82.4,"tx":8.7},{"rsrp":-82.2,"tx":8.3},{"rsrp":-81.7,"tx":8.5},{"rsrp":-81.5,"tx":8.05},{"rsrp":-81.4,"tx":7.5},{"rsrp":-81.2,"tx":7.3},{"rsrp":-80.1,"tx":8.2},{"rsrp":-79.9,"tx":7.8},{"rsrp":-79.6,"tx":8.1},{"rsrp":-79.5,"tx":8.2},{"rsrp":-79.7,"tx":7.4},{"rsrp":-79.0,"tx":7.0},{"rsrp":-78.8,"tx":7.0},{"rsrp":-78.0,"tx":8.45},{"rsrp":-77.7,"tx":8.2},{"rsrp":-77.4,"tx":7.8},{"rsrp":-77.8,"tx":7.8},{"rsrp":-75.7,"tx":7.55},{"rsrp":-75.6,"tx":7.3},{"rsrp":-75.1,"tx":6.5},{"rsrp":-74.3,"tx":6.2},{"rsrp":-73.6,"tx":6.75},{"rsrp":-72.7,"tx":7.1},{"rsrp":-72.2,"tx":7.4},{"rsrp":-71.5,"tx":7.6},{"rsrp":-71.2,"tx":7.6},{"rsrp":-72.7,"tx":6.05},{"rsrp":-71.2,"tx":6.2},
{"rsrp":-89.0,"tx":7.2},{"rsrp":-88.8,"tx":6.95},{"rsrp":-87.8,"tx":7.05},{"rsrp":-86.9,"tx":7.0},{"rsrp":-86.7,"tx":6.7},{"rsrp":-86.6,"tx":6.45},{"rsrp":-85.8,"tx":6.8},{"rsrp":-85.6,"tx":6.8},{"rsrp":-85.3,"tx":6.8},{"rsrp":-84.8,"tx":7.05},{"rsrp":-83.8,"tx":6.9},{"rsrp":-83.7,"tx":6.7},{"rsrp":-83.6,"tx":7.05},{"rsrp":-89.5,"tx":6.6},{"rsrp":-89.5,"tx":6.4},{"rsrp":-89.0,"tx":6.55},{"rsrp":-89.0,"tx":6.0},{"rsrp":-84.2,"tx":6.2},{"rsrp":-84.0,"tx":6.05},{"rsrp":-83.7,"tx":6.3},{"rsrp":-83.5,"tx":6.4},
{"rsrp":-83.55,"tx":5.65},{"rsrp":-83.3,"tx":5.9},{"rsrp":-83.1,"tx":5.9},{"rsrp":-82.7,"tx":6.05},{"rsrp":-82.35,"tx":6.05},{"rsrp":-82.0,"tx":6.1},{"rsrp":-81.9,"tx":5.8},{"rsrp":-81.6,"tx":5.95},{"rsrp":-81.8,"tx":5.5},{"rsrp":-81.5,"tx":5.6},{"rsrp":-81.1,"tx":5.65},{"rsrp":-82.5,"tx":5.5},{"rsrp":-82.1,"tx":5.5},{"rsrp":-81.4,"tx":5.3},{"rsrp":-81.2,"tx":5.2},{"rsrp":-80.0,"tx":5.65},{"rsrp":-79.5,"tx":5.8},{"rsrp":-78.9,"tx":5.65},{"rsrp":-78.5,"tx":5.8},{"rsrp":-78.3,"tx":6.0},{"rsrp":-79.0,"tx":5.3},{"rsrp":-78.6,"tx":5.2},{"rsrp":-78.4,"tx":5.4},{"rsrp":-78.0,"tx":5.2},{"rsrp":-77.75,"tx":5.3},
{"rsrp":-76.7,"tx":6.2},{"rsrp":-75.4,"tx":5.8},{"rsrp":-74.6,"tx":6.5},{"rsrp":-74.1,"tx":6.3},{"rsrp":-73.0,"tx":5.7},{"rsrp":-72.5,"tx":5.3},{"rsrp":-71.9,"tx":5.8},{"rsrp":-78.3,"tx":6.4},{"rsrp":-77.5,"tx":6.2},
{"rsrp":-89.2,"tx":5.06},{"rsrp":-89.1,"tx":4.72},{"rsrp":-89.45,"tx":4.28},{"rsrp":-89.6,"tx":4.17},{"rsrp":-88.97,"tx":4.28},{"rsrp":-88.65,"tx":4.46},{"rsrp":-88.16,"tx":4.5},{"rsrp":-87.84,"tx":4.72},{"rsrp":-87.68,"tx":5.17},{"rsrp":-88.0,"tx":4.95},{"rsrp":-86.64,"tx":4.46},{"rsrp":-86.39,"tx":4.83},{"rsrp":-85.1,"tx":5.06},{"rsrp":-84.61,"tx":5.06},{"rsrp":-84.45,"tx":4.28},{"rsrp":-83.97,"tx":4.72},{"rsrp":-83.48,"tx":4.95},{"rsrp":-83.0,"tx":4.28},{"rsrp":-82.77,"tx":4.61},{"rsrp":-82.52,"tx":4.28},{"rsrp":-82.19,"tx":4.72},{"rsrp":-81.94,"tx":4.46},{"rsrp":-81.55,"tx":5.06},{"rsrp":-81.06,"tx":5.21},{"rsrp":-81.06,"tx":4.61},{"rsrp":-80.58,"tx":4.46},{"rsrp":-80.1,"tx":4.5},{"rsrp":-79.87,"tx":4.95},{"rsrp":-79.55,"tx":5.17},{"rsrp":-79.45,"tx":4.61},{"rsrp":-79.29,"tx":4.95},{"rsrp":-78.9,"tx":5.0},{"rsrp":-78.64,"tx":4.8},{"rsrp":-78.26,"tx":5.0},{"rsrp":-78.0,"tx":4.61},{"rsrp":-77.68,"tx":4.77},{"rsrp":-77.35,"tx":4.5},{"rsrp":-76.64,"tx":4.46},{"rsrp":-76.48,"tx":3.95},{"rsrp":-76.23,"tx":3.73},{"rsrp":-75.48,"tx":3.73},{"rsrp":-74.77,"tx":5.06},{"rsrp":-74.61,"tx":4.77},{"rsrp":-74.29,"tx":4.46},{"rsrp":-73.97,"tx":4.95},{"rsrp":-73.81,"tx":4.5},{"rsrp":-73.16,"tx":4.17},{"rsrp":-72.97,"tx":3.95},{"rsrp":-71.87,"tx":4.61},{"rsrp":-71.71,"tx":3.44},
{"rsrp":-90.19,"tx":3.22},{"rsrp":-90.0,"tx":3.22},{"rsrp":-90.26,"tx":2.62},{"rsrp":-92.03,"tx":2.46},{"rsrp":-91.06,"tx":2.46},{"rsrp":-90.1,"tx":2.46},{"rsrp":-88.48,"tx":3.61},{"rsrp":-88.65,"tx":3.44},{"rsrp":-88.0,"tx":3.66},{"rsrp":-87.03,"tx":3.61},{"rsrp":-86.97,"tx":3.22},{"rsrp":-86.23,"tx":3.17},{"rsrp":-85.74,"tx":2.84},{"rsrp":-85.26,"tx":3.44},{"rsrp":-85.42,"tx":3.17},{"rsrp":-85.03,"tx":3.95},{"rsrp":-84.61,"tx":4.1},{"rsrp":-84.06,"tx":2.62},{"rsrp":-83.81,"tx":3.39},{"rsrp":-83.55,"tx":3.44},{"rsrp":-83.16,"tx":3.79},{"rsrp":-82.84,"tx":3.22},{"rsrp":-82.52,"tx":2.62},{"rsrp":-82.35,"tx":2.84},{"rsrp":-82.19,"tx":2.51},{"rsrp":-81.71,"tx":2.55},{"rsrp":-81.55,"tx":3.06},{"rsrp":-81.23,"tx":2.91},{"rsrp":-80.97,"tx":3.17},{"rsrp":-80.58,"tx":3.95},{"rsrp":-80.19,"tx":3.84},{"rsrp":-80.0,"tx":3.61},{"rsrp":-79.77,"tx":3.5},{"rsrp":-79.61,"tx":2.84},{"rsrp":-79.45,"tx":3.95},{"rsrp":-79.13,"tx":4.17},{"rsrp":-78.97,"tx":3.39},{"rsrp":-78.81,"tx":2.95},{"rsrp":-78.64,"tx":3.5},{"rsrp":-78.32,"tx":3.84},{"rsrp":-78.16,"tx":3.39},{"rsrp":-78.0,"tx":3.17},{"rsrp":-77.84,"tx":3.73},{"rsrp":-77.52,"tx":4.17},{"rsrp":-77.29,"tx":2.99},{"rsrp":-77.03,"tx":3.1},{"rsrp":-76.39,"tx":3.39},{"rsrp":-75.9,"tx":2.51},{"rsrp":-75.42,"tx":3.5},{"rsrp":-75.26,"tx":2.51},{"rsrp":-74.77,"tx":1.95},{"rsrp":-73.97,"tx":3.39},{"rsrp":-73.55,"tx":2.95},{"rsrp":-73.32,"tx":3.06},{"rsrp":-73.0,"tx":3.44},{"rsrp":-72.52,"tx":2.28},{"rsrp":-71.87,"tx":1.95},{"rsrp":-71.87,"tx":1.62},{"rsrp":-71.55,"tx":2.73},
{"rsrp":-84.13,"tx":1.62},{"rsrp":-84.13,"tx":1.35},{"rsrp":-84.94,"tx":0.33},{"rsrp":-84.45,"tx":0.18},{"rsrp":-83.81,"tx":0.51},{"rsrp":-83.64,"tx":0.47},{"rsrp":-83.48,"tx":0.18},{"rsrp":-82.52,"tx":0.4},{"rsrp":-81.87,"tx":0.73},{"rsrp":-81.55,"tx":1.62},{"rsrp":-81.06,"tx":1.89},{"rsrp":-80.9,"tx":1.73},{"rsrp":-80.84,"tx":0.51},{"rsrp":-80.58,"tx":1.0},{"rsrp":-80.1,"tx":1.95},{"rsrp":-79.94,"tx":1.95},{"rsrp":-79.77,"tx":1.95},{"rsrp":-80.1,"tx":1.62},{"rsrp":-79.94,"tx":1.18},{"rsrp":-79.61,"tx":1.62},{"rsrp":-79.35,"tx":1.4},{"rsrp":-78.97,"tx":2.4},{"rsrp":-78.81,"tx":1.95},{"rsrp":-78.64,"tx":2.06},{"rsrp":-78.32,"tx":2.84},{"rsrp":-78.0,"tx":1.62},{"rsrp":-77.84,"tx":1.22},{"rsrp":-77.42,"tx":1.07},{"rsrp":-77.19,"tx":2.06},{"rsrp":-77.03,"tx":2.06},{"rsrp":-76.77,"tx":0.73},{"rsrp":-76.23,"tx":1.11},{"rsrp":-76.06,"tx":2.06},{"rsrp":-75.42,"tx":0.73},{"rsrp":-75.16,"tx":1.89},{"rsrp":-74.93,"tx":1.07},{"rsrp":-74.61,"tx":1.0},{"rsrp":-74.29,"tx":1.62},{"rsrp":-74.06,"tx":1.07},{"rsrp":-73.64,"tx":1.84},{"rsrp":-73.48,"tx":1.84},{"rsrp":-72.9,"tx":0.73},{"rsrp":-72.68,"tx":0.47},{"rsrp":-72.35,"tx":2.51},{"rsrp":-71.87,"tx":2.62},{"rsrp":-71.71,"tx":1.95},{"rsrp":-71.55,"tx":1.4},{"rsrp":-71.23,"tx":2.51},{"rsrp":-70.9,"tx":1.95},{"rsrp":-70.3,"tx":1.22},
{"rsrp":-87.4,"tx":1.9},{"rsrp":-86.8,"tx":1.2},{"rsrp":-85.6,"tx":1.5},{"rsrp":-85.2,"tx":0.9},{"rsrp":-86.5,"tx":2.2},{"rsrp":-88.2,"tx":2.3},{"rsrp":-89.0,"tx":1.6},{"rsrp":-86.06,"tx":0.02},{"rsrp":-86.23,"tx":-0.26},
{"rsrp":-86.39,"tx":-0.38},{"rsrp":-86.0,"tx":-0.93},{"rsrp":-85.26,"tx":-0.93},{"rsrp":-84.94,"tx":-0.26},{"rsrp":-84.45,"tx":-0.15},{"rsrp":-84.13,"tx":-0.38},{"rsrp":-83.81,"tx":-0.6},{"rsrp":-83.48,"tx":-0.49},{"rsrp":-83.16,"tx":-0.82},{"rsrp":-82.84,"tx":-1.37},{"rsrp":-82.68,"tx":-0.49},{"rsrp":-81.87,"tx":-1.26},{"rsrp":-81.55,"tx":-1.93},{"rsrp":-81.23,"tx":-2.15},{"rsrp":-80.74,"tx":-0.93},{"rsrp":-80.58,"tx":-1.48},{"rsrp":-80.42,"tx":-1.93},{"rsrp":-80.26,"tx":-2.26},{"rsrp":-80.19,"tx":-2.37},{"rsrp":-80.1,"tx":-1.15},{"rsrp":-79.94,"tx":-1.26},{"rsrp":-79.77,"tx":-1.59},{"rsrp":-79.45,"tx":-1.15},{"rsrp":-79.29,"tx":-1.93},{"rsrp":-79.13,"tx":-2.26},{"rsrp":-78.81,"tx":-1.26},{"rsrp":-78.48,"tx":-1.93},{"rsrp":-78.32,"tx":-1.71},{"rsrp":-78.0,"tx":-1.75},{"rsrp":-77.84,"tx":-1.93},{"rsrp":-77.52,"tx":-1.37},{"rsrp":-77.29,"tx":-2.37},{"rsrp":-77.03,"tx":-1.48},{"rsrp":-76.71,"tx":-2.15},{"rsrp":-76.39,"tx":-2.81},{"rsrp":-76.06,"tx":-2.37},{"rsrp":-75.74,"tx":-1.48},{"rsrp":-75.42,"tx":-1.26},{"rsrp":-74.77,"tx":-1.59},{"rsrp":-74.29,"tx":0.29},{"rsrp":-74.13,"tx":-0.49},{"rsrp":-73.48,"tx":-1.71},{"rsrp":-73.32,"tx":-2.15},{"rsrp":-73.16,"tx":-2.48},{"rsrp":-72.19,"tx":-0.15},{"rsrp":-72.19,"tx":-0.6},{"rsrp":-72.03,"tx":-0.93},{"rsrp":-72.03,"tx":-1.26},{"rsrp":-72.03,"tx":-1.59},{"rsrp":-72.03,"tx":-1.93},{"rsrp":-71.87,"tx":-2.37},{"rsrp":-71.71,"tx":-2.81},{"rsrp":-71.55,"tx":-0.49},{"rsrp":-71.39,"tx":-0.93},{"rsrp":-71.39,"tx":-1.48},{"rsrp":-71.23,"tx":-1.93},{"rsrp":-71.06,"tx":-1.93},{"rsrp":-70.58,"tx":-2.37},{"rsrp":-70.9,"tx":-0.15},
{"rsrp":-71.3,"tx":-0.3},{"rsrp":-71.2,"tx":-1.1},{"rsrp":-71.0,"tx":-1.6},{"rsrp":-71.3,"tx":-2.2},{"rsrp":-71.1,"tx":-2.6},{"rsrp":-71.4,"tx":-3.2},{"rsrp":-71.6,"tx":-3.5},{"rsrp":-72.1,"tx":-3.4},
{"rsrp":-84.61,"tx":-2.81},{"rsrp":-84.13,"tx":-2.37},{"rsrp":-83.64,"tx":-3.7},{"rsrp":-82.84,"tx":-3.59},{"rsrp":-82.68,"tx":-3.15},{"rsrp":-81.55,"tx":-2.92},{"rsrp":-81.23,"tx":-2.59},{"rsrp":-81.06,"tx":-3.04},{"rsrp":-80.84,"tx":-3.04},{"rsrp":-80.74,"tx":-3.48},{"rsrp":-80.58,"tx":-3.7},{"rsrp":-80.42,"tx":-3.92},{"rsrp":-80.26,"tx":-3.37},{"rsrp":-80.1,"tx":-3.48},{"rsrp":-79.94,"tx":-3.7},{"rsrp":-79.77,"tx":-4.03},{"rsrp":-79.45,"tx":-3.7},{"rsrp":-79.29,"tx":-3.43},{"rsrp":-79.13,"tx":-4.37},{"rsrp":-78.97,"tx":-4.7},{"rsrp":-78.48,"tx":-3.92},{"rsrp":-78.32,"tx":-4.26},{"rsrp":-78.0,"tx":-3.15},{"rsrp":-77.68,"tx":-4.37},{"rsrp":-77.35,"tx":-4.48},{"rsrp":-77.03,"tx":-4.7},{"rsrp":-76.71,"tx":-3.48},{"rsrp":-76.39,"tx":-3.48},{"rsrp":-76.23,"tx":-3.92},{"rsrp":-75.9,"tx":-4.81},{"rsrp":-76.39,"tx":-4.92},{"rsrp":-81.39,"tx":-4.59},{"rsrp":-81.06,"tx":-4.48},{"rsrp":-80.58,"tx":-4.59},{"rsrp":-80.1,"tx":-4.7},{"rsrp":-79.94,"tx":-4.92},{"rsrp":-79.77,"tx":-5.03},{"rsrp":-79.61,"tx":-5.36},{"rsrp":-80.58,"tx":-5.47},{"rsrp":-80.26,"tx":-5.47},{"rsrp":-79.94,"tx":-5.59},{"rsrp":-78.48,"tx":-5.14},{"rsrp":-77.52,"tx":-5.59},{"rsrp":-76.71,"tx":-5.03},{"rsrp":-75.26,"tx":-6.18},{"rsrp":-81.55,"tx":-5.08},{"rsrp":-73.81,"tx":-3.59},{"rsrp":-73.16,"tx":-3.37},{"rsrp":-72.45,"tx":-3.37},{"rsrp":-71.81,"tx":-3.7},{"rsrp":-71.06,"tx":-3.37},
{"rsrp":-81.48,"tx":-6.54},{"rsrp":-81.29,"tx":-7.14},{"rsrp":-71.23,"tx":-7.91},{"rsrp":-73.6,"tx":-10.0},
{"rsrp":-82.9,"tx":5.1},{"rsrp":-82.3,"tx":4.9},{"rsrp":-81.7,"tx":4.1},{"rsrp":-80.9,"tx":4.0},{"rsrp":-80.4,"tx":5.1},{"rsrp":-79.9,"tx":4.3},{"rsrp":-79.2,"tx":3.7},{"rsrp":-78.6,"tx":4.3},{"rsrp":-78.1,"tx":4.0},{"rsrp":-77.0,"tx":4.9},{"rsrp":-76.0,"tx":4.6},{"rsrp":-75.1,"tx":4.3},
{"rsrp":-83.9,"tx":5.6},{"rsrp":-82.0,"tx":6.6},{"rsrp":-80.7,"tx":6.3},{"rsrp":-80.3,"tx":6.9},{"rsrp":-79.3,"tx":6.5},{"rsrp":-77.0,"tx":6.6},{"rsrp":-76.1,"tx":5.5},{"rsrp":-75.8,"tx":6.9},
{"rsrp":-84.8,"tx":2.2},{"rsrp":-83.2,"tx":2.2},{"rsrp":-82.9,"tx":1.6},{"rsrp":-82.2,"tx":1.9},{"rsrp":-81.9,"tx":1.2},{"rsrp":-81.3,"tx":0.9},{"rsrp":-80.6,"tx":2.5},{"rsrp":-80.3,"tx":0.2},{"rsrp":-79.6,"tx":0.6},{"rsrp":-79.2,"tx":2.3},{"rsrp":-78.5,"tx":0.8},{"rsrp":-78.2,"tx":-0.2},{"rsrp":-77.6,"tx":0.3},{"rsrp":-77.5,"tx":2.6},{"rsrp":-76.6,"tx":1.7},{"rsrp":-76.0,"tx":0.0},{"rsrp":-75.5,"tx":-0.4},{"rsrp":-74.9,"tx":2.7},{"rsrp":-74.5,"tx":-0.9},{"rsrp":-73.9,"tx":0.4},{"rsrp":-73.1,"tx":1.3},
{"rsrp":-82.4,"tx":-0.3},{"rsrp":-81.7,"tx":-0.6},{"rsrp":-81.2,"tx":-1.0},{"rsrp":-80.9,"tx":-1.9},{"rsrp":-80.4,"tx":-0.4},{"rsrp":-79.8,"tx":-2.1},{"rsrp":-79.6,"tx":-0.3},{"rsrp":-79.0,"tx":-0.8},{"rsrp":-78.7,"tx":-2.6},{"rsrp":-78.1,"tx":-0.7},{"rsrp":-77.7,"tx":-2.8},{"rsrp":-77.1,"tx":-0.7},{"rsrp":-76.5,"tx":-1.4},{"rsrp":-75.9,"tx":-3.1},{"rsrp":-75.1,"tx":-2.4},{"rsrp":-74.2,"tx":-2.0},{"rsrp":-73.8,"tx":-1.1},
{"rsrp":-82.3,"tx":-2.3},{"rsrp":-81.9,"tx":-3.5},{"rsrp":-81.5,"tx":-4.0},{"rsrp":-81.1,"tx":-3.7},{"rsrp":-80.9,"tx":-4.2},{"rsrp":-80.5,"tx":-2.8},{"rsrp":-80.0,"tx":-4.3},{"rsrp":-79.5,"tx":-4.6},{"rsrp":-79.3,"tx":-2.9},{"rsrp":-78.8,"tx":-3.3},{"rsrp":-78.4,"tx":-4.7},{"rsrp":-77.9,"tx":-3.9},{"rsrp":-77.4,"tx":-3.3},{"rsrp":-77.1,"tx":-4.0},{"rsrp":-76.8,"tx":-4.4},{"rsrp":-75.5,"tx":-3.6},{"rsrp":-74.9,"tx":-4.3},
{"rsrp":-81.0,"tx":-5.5},{"rsrp":-80.8,"tx":-5.0},{"rsrp":-80.1,"tx":-5.2},{"rsrp":-79.4,"tx":-5.6},{"rsrp":-79.1,"tx":-5.1},{"rsrp":-78.0,"tx":-5.4},{"rsrp":-76.2,"tx":-5.5},
{"rsrp":-85.5,"tx":4.4},{"rsrp":-86.0,"tx":5.3},{"rsrp":-87.2,"tx":5.6},{"rsrp":-86.6,"tx":3.9},{"rsrp":-84.9,"tx":6.0},{"rsrp":-85.9,"tx":2.3},{"rsrp":-87.5,"tx":2.9},{"rsrp":-88.9,"tx":5.6},{"rsrp":-90.6,"tx":5.2},{"rsrp":-91.3,"tx":4.1},{"rsrp":-90.9,"tx":6.6},{"rsrp":-88.3,"tx":7.6},{"rsrp":-87.0,"tx":8.3},{"rsrp":-86.1,"tx":9.3},{"rsrp":-83.1,"tx":9.2},{"rsrp":-80.9,"tx":8.0},{"rsrp":-80.4,"tx":7.1},{"rsrp":-77.1,"tx":9.5},{"rsrp":-75.3,"tx":9.6},{"rsrp":-74.6,"tx":8.6},{"rsrp":-73.9,"tx":7.7},{"rsrp":-74.5,"tx":10.6},{"rsrp":-76.5,"tx":11.1},{"rsrp":-79.1,"tx":10.9},{"rsrp":-82.1,"tx":12.2}
  ]},
  "mark": {"type": "point", "filled": true, "color": "#4c72b0", "stroke": "#ffffff", "strokeWidth": 0.5, "size": 20, "opacity": 1, "clip": true},
  "encoding": {
    "x": {
      "field": "rsrp",
      "type": "quantitative",
      "scale": {"domain": [-119.64, -67.57], "nice": false, "zero": false},
      "axis": {"title": "RSRP [dBm]", "values": [-110, -100, -90, -80, -70], "labelPadding": 7, "titlePadding": 3}
    },
    "y": {
      "field": "tx",
      "type": "quantitative",
      "scale": {"domain": [-11.57, 22.93], "nice": false, "zero": false},
      "axis": {"title": "TX Power [dBm]", "values": [-10, -5, 0, 5, 10, 15, 20], "labelPadding": 9, "titlePadding": 2}
    }
  }
}
